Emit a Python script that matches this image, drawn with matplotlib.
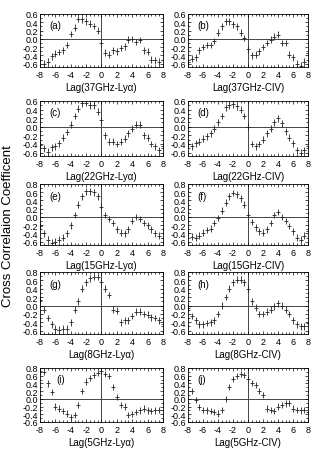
import numpy as np
import matplotlib.pyplot as plt
from matplotlib.ticker import MultipleLocator

plt.rcParams['font.family'] = ['Liberation Sans', 'DejaVu Sans']
plt.rcParams['axes.unicode_minus'] = False
plt.rcParams['xtick.direction'] = 'in'
plt.rcParams['ytick.direction'] = 'in'

lag = np.arange(-8, 8.01, 0.5)  # 33 lags

# (a) 37GHz-Lya
ccf_a = [-0.5, -0.6, -0.55, -0.42, -0.36, -0.32, -0.28, -0.15, 0.12, 0.27, 0.48, 0.47, 0.42, 0.37, 0.31, 0.2,
         -0.1, -0.33, -0.38, -0.28, -0.3, -0.22, -0.18, -0.02, 0.0, -0.08, -0.03, -0.28, -0.31, -0.5, -0.52, -0.55, -0.5]
# (b) 37GHz-CIV
ccf_b = [-0.55, -0.48, -0.45, -0.28, -0.2, -0.15, -0.15, -0.05, 0.15, 0.3, 0.42, 0.42, 0.35, 0.3, 0.15, 0.02,
         -0.25, -0.4, -0.38, -0.3, -0.2, -0.1, -0.02, 0.05, 0.1, -0.1, -0.1, -0.38, -0.45, -0.6, -0.65, -0.55, -0.35]
# (c) 22GHz-Lya
ccf_c = [-0.42, -0.5, -0.58, -0.48, -0.45, -0.38, -0.25, -0.12, 0.05, 0.25, 0.42, 0.55, 0.56, 0.5, 0.5, 0.35,
         0.15, -0.2, -0.35, -0.35, -0.4, -0.35, -0.28, -0.15, -0.05, 0.05, 0.05, -0.2, -0.25, -0.4, -0.45, -0.55, -0.45]
# (d) 22GHz-CIV
ccf_d = [-0.4, -0.45, -0.38, -0.35, -0.28, -0.22, -0.15, -0.05, 0.1, 0.25, 0.45, 0.5, 0.52, 0.48, 0.4, 0.25,
         0.0, -0.4, -0.45, -0.4, -0.3, -0.15, -0.05, 0.1, 0.2, 0.08, -0.1, -0.25, -0.38, -0.55, -0.6, -0.55, -0.45]
# (e) 15GHz-Lya
ccf_e = [-0.22, -0.4, -0.55, -0.62, -0.6, -0.55, -0.5, -0.4, -0.2, 0.05, 0.3, 0.5, 0.62, 0.62, 0.6, 0.5,
         0.25, 0.05, -0.05, -0.15, -0.3, -0.38, -0.4, -0.3, -0.1, 0.0, -0.05, -0.15, -0.2, -0.3, -0.4, -0.45, -0.5]
# (f) 15GHz-CIV
ccf_f = [-0.38, -0.48, -0.5, -0.45, -0.38, -0.32, -0.28, -0.15, -0.02, 0.15, 0.35, 0.5, 0.58, 0.55, 0.45, 0.3,
         0.05, -0.12, -0.25, -0.35, -0.38, -0.3, -0.15, 0.05, 0.12, 0.0, -0.1, -0.22, -0.35, -0.5, -0.55, -0.45, -0.35]
# (g) 8GHz-Lya
ccf_g = [0.12, -0.1, -0.3, -0.45, -0.55, -0.58, -0.55, -0.55, -0.4, -0.1, 0.1, 0.4, 0.55, 0.65, 0.68, 0.68,
         0.55, 0.4, 0.25, -0.1, -0.12, -0.4, -0.35, -0.35, -0.25, -0.15, -0.15, -0.2, -0.22, -0.28, -0.3, -0.35, -0.45]
# (h) 8GHz-CIV
ccf_h = [-0.05, -0.25, -0.35, -0.45, -0.45, -0.42, -0.4, -0.35, -0.2, 0.0, 0.2, 0.4, 0.55, 0.62, 0.62, 0.55,
         0.4, 0.1, -0.05, -0.2, -0.2, -0.15, -0.1, -0.02, 0.05, 0.0, -0.1, -0.2, -0.35, -0.45, -0.5, -0.5, -0.42]
# (i) 5GHz-Lya
ccf_i = [0.72, 0.7, 0.4, 0.18, -0.2, -0.25, -0.32, -0.38, -0.48, -0.42, -0.15, 0.2, 0.45, 0.55, 0.62, 0.68,
         0.72, 0.65, 0.6, 0.3, 0.05, -0.15, -0.2, -0.42, -0.4, -0.35, -0.3, -0.25, -0.3, -0.32, -0.3, -0.28, -0.28]
# (j) 5GHz-CIV
ccf_j = [0.5, 0.2, -0.03, -0.22, -0.28, -0.3, -0.32, -0.35, -0.38, -0.28, 0.0, 0.3, 0.52, 0.6, 0.65, 0.62,
         0.52, 0.42, 0.35, 0.2, 0.1, -0.25, -0.28, -0.32, -0.2, -0.15, -0.12, -0.1, -0.25, -0.28, -0.3, -0.28, -0.35]

err = 0.08

panels = [('(a)', 'Lag(37GHz-Ly\u03b1)', ccf_a), ('(b)', 'Lag(37GHz-CIV)', ccf_b),
          ('(c)', 'Lag(22GHz-Ly\u03b1)', ccf_c), ('(d)', 'Lag(22GHz-CIV)', ccf_d),
          ('(e)', 'Lag(15GHz-Ly\u03b1)', ccf_e), ('(f)', 'Lag(15GHz-CIV)', ccf_f),
          ('(g)', 'Lag(8GHz-Ly\u03b1)', ccf_g), ('(h)', 'Lag(8GHz-CIV)', ccf_h),
          ('(i)', 'Lag(5GHz-Ly\u03b1)', ccf_i), ('(j)', 'Lag(5GHz-CIV)', ccf_j)]

W, H = 315, 452
fig = plt.figure(figsize=(W / 100, H / 100), dpi=100)

# pixel rows (top, bottom) and y limits
rows = [(15, 68, (-0.68, 0.6), [-0.6, -0.4, -0.2, 0.0, 0.2, 0.4, 0.6]),
        (102, 157, (-0.68, 0.6), [-0.6, -0.4, -0.2, 0.0, 0.2, 0.4, 0.6]),
        (185, 246, (-0.68, 0.8), [-0.6, -0.4, -0.2, 0.0, 0.2, 0.4, 0.6, 0.8]),
        (273, 335, (-0.68, 0.8), [-0.6, -0.4, -0.2, 0.0, 0.2, 0.4, 0.6, 0.8]),
        (369, 423, (-0.6, 0.8), [-0.6, -0.4, -0.2, 0.0, 0.2, 0.4, 0.6, 0.8])]
cols = [(40, 163), (188, 308)]

for k, (letter, xlab, ccf) in enumerate(panels):
    r, c = k // 2, k % 2
    top, bot, ylim, yt = rows[r]
    x0, x1 = cols[c]
    ax = fig.add_axes([x0 / W, 1 - bot / H, (x1 - x0) / W, (bot - top) / H])
    ax.axhline(0, color='#444444', lw=0.7, zorder=1)
    ax.axvline(0, color='#444444', lw=0.7, zorder=1)
    ax.errorbar(lag, ccf, yerr=err, fmt='_', color='#222222', ms=3, mew=0.6,
                elinewidth=0.6, capsize=0, zorder=2)
    ax.set_xlim(-8, 8)
    ax.set_ylim(*ylim)
    ax.set_xticks([-8, -6, -4, -2, 0, 2, 4, 6, 8])
    ax.set_yticks(yt)
    ax.set_yticklabels(['%.1f' % v for v in yt])
    ax.xaxis.set_minor_locator(MultipleLocator(0.5))
    ax.yaxis.set_minor_locator(MultipleLocator(0.1))
    ax.tick_params(which='both', top=True, right=True, labelsize=6.5, width=0.5)
    ax.tick_params(axis='x', pad=2.5)
    ax.tick_params(axis='y', pad=1.5)
    ax.tick_params(which='major', length=2.5)
    ax.tick_params(which='minor', length=1.3)
    for s in ax.spines.values():
        s.set_linewidth(0.6)
    ax.set_xlabel(xlab, fontsize=7, labelpad=2)
    lx = 0.13 if letter == '(i)' else 0.08
    ax.text(lx, 0.8, letter, transform=ax.transAxes, fontsize=7, va='center', ha='left')

fig.text(8 / W, 0.5, 'Cross Correlaion Coefficent', rotation=90, fontsize=9.5,
         va='center', ha='center')

fig.savefig('out.png', dpi=100)
